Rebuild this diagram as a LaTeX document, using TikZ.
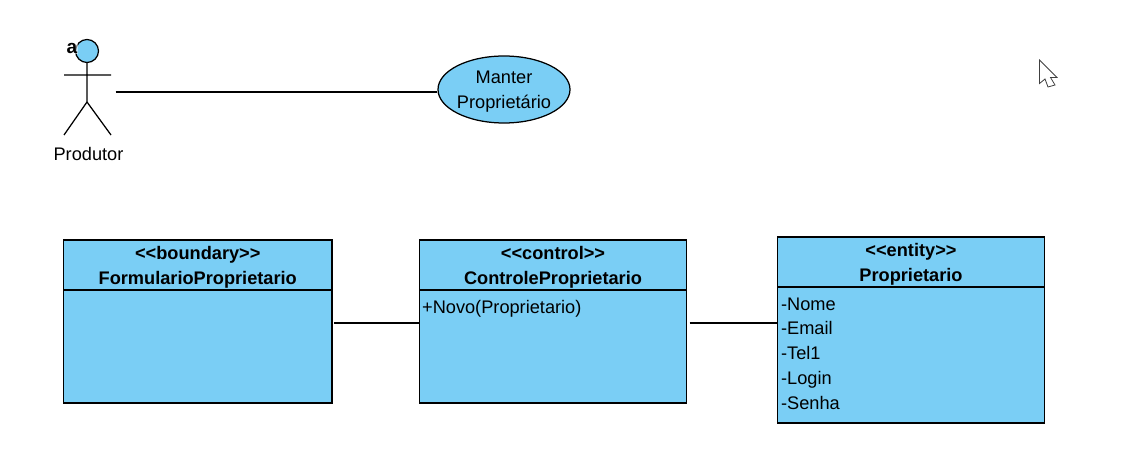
\documentclass[tikz,border=0pt]{standalone}
\usepackage{fontspec}
\setmainfont{Liberation Sans}
\usetikzlibrary{positioning, shapes.geometric}
\definecolor{cfill}{HTML}{7ACEF5}
\tikzset{
  every picture/.style={line width=1.25pt},
  txt/.style={font=\fontsize{18.2}{25}\selectfont, align=center, inner sep=0pt},
  usecase/.style={ellipse, draw, fill=cfill, txt, inner xsep=-1pt, inner ysep=-4pt, minimum width=132, minimum height=67},
  classhead/.style={rectangle, draw, fill=cfill, txt, font=\fontsize{18.2}{25}\selectfont\bfseries, minimum width=#1, minimum height=50, outer sep=0pt},
  classhead/.default=267,
  classbody/.style={rectangle, draw, fill=cfill, minimum width=#1, outer sep=0pt, inner sep=0pt},
  classbody/.default=267,
  member/.style={txt, anchor=base west},
  link/.style={line width=1.4pt},
}
\newcommand{\twolines}[2]{\rule{0pt}{19.5pt}#1\\#2\rule[-5.5pt]{0pt}{5.5pt}}
\begin{document}
\begin{tikzpicture}[x=1pt, y=-1pt]
  \useasboundingbox (0,0) rectangle (1147,473);
  % actor
  \draw[fill=cfill] (87,51) circle (11.5);
  \draw (87,62.5) -- (87,102) -- (64,135) (87,102) -- (111,135) (64,75) -- (111,75);
  \node[txt, font=\fontsize{19}{20}\selectfont\bfseries, fill=white, fill opacity=0.5, text opacity=1, inner sep=0.5pt] (actormark) at (72,48.5) {a};
  \node[txt] (actorname) at (88.5,154) {Produtor};
  \coordinate (actorport) at (115.5,92);
  % use case
  \node[usecase] (manter) at (504,89.5) {\twolines{Manter}{Proprietário}};
  \draw[link] (actorport) -- (manter.west |- actorport);
  % classes
  \node[classhead=268.5, anchor=north west] (boundaryhead) at (63.5,240) {\twolines{{<}{<}boundary{>}{>}}{FormularioProprietario}};
  \node[classbody=268.5, minimum height=113, below=0pt of boundaryhead] (boundarybody) {};
  \node[classhead, anchor=north west] (controlhead) at (419.5,240) {\twolines{{<}{<}control{>}{>}}{ControleProprietario}};
  \node[classbody, minimum height=113, below=0pt of controlhead] (controlbody) {};
  \node[classhead, anchor=north west] (entityhead) at (777.5,237) {\twolines{{<}{<}entity{>}{>}}{Proprietario}};
  \node[classbody, minimum height=136, below=0pt of entityhead] (entitybody) {};
  \node[member] (novo) at (421.5,313) {+Novo(Proprietario)};
  \foreach \s [count=\j] in {Nome,Email,Tel1,Login,Senha} {
    \node[member] (attr\j) at (780.5,{285.2+\j*24.8}) {-\s}; }
  % connectors
  \coordinate (boundaryport) at (334,323);
  \coordinate (controlport) at (689.5,323);
  \draw[link] (boundaryport) -- (controlbody.west |- boundaryport);
  \draw[link] (controlport) -- (entitybody.west |- controlport);
  % mouse pointer
  \draw[line width=0.8pt, fill=white, draw=black!75] (1039.5,60) -- (1039.5,83.5) -- (1045,79) -- (1048,87) -- (1055,85) -- (1050.5,77.5) -- (1057,77.5) -- cycle;
\end{tikzpicture}
\end{document}
